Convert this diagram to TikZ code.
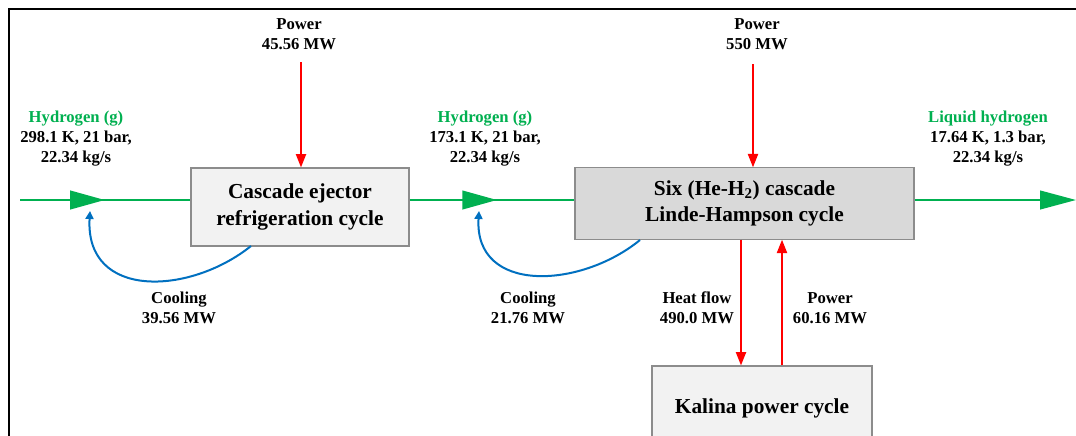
\documentclass[tikz,border=0pt]{standalone}
\usepackage{fontspec}
\setmainfont{Liberation Serif}
\usetikzlibrary{arrows.meta,decorations.markings}
\definecolor{hgreen}{HTML}{00B050}
\definecolor{pred}{HTML}{FF0000}
\definecolor{cblue}{HTML}{0070C0}
\definecolor{boxgray}{HTML}{8C8C8C}
\definecolor{lightfill}{HTML}{F2F2F2}
\definecolor{darkfill}{HTML}{D9D9D9}
\tikzset{
  procbox/.style={draw=boxgray, line width=0.8pt, align=center, inner sep=0pt,
    font=\fontsize{16}{20}\selectfont\bfseries},
  lbl/.style={align=center, inner sep=0pt, font=\fontsize{12.5}{15}\selectfont\bfseries},
  flow/.style={draw=hgreen, line width=1.6pt},
  powerarrow/.style={draw=pred, line width=1.5pt, -{Triangle[length=10pt,width=7.5pt]}},
  coolarrow/.style={draw=cblue, line width=1.5pt, -{Triangle[length=6pt,width=6pt]}},
  midtri/.style={postaction={decorate}, decoration={markings,
    mark=at position #1 with {\arrow[hgreen]{Triangle[length=26pt,width=14pt]}}}}
}
\begin{document}
\begin{tikzpicture}[x=0.75pt,y=-0.75pt]
\useasboundingbox (0,0) rectangle (1076,436);
\clip (0,0) rectangle (1076,436);
\fill[white] (0,0) rectangle (1076,436);
% frame
\draw[line width=2pt] (9,460) -- (9,9) -- (1080,9);

% boxes
\node[procbox, fill=lightfill, minimum width=163.5pt, minimum height=58.5pt] (cer) at (300,207)
  {Cascade ejector\\refrigeration cycle};
\node[procbox, fill=darkfill, minimum width=254.25pt, minimum height=53.5pt] (lh) at (744.5,203.5)
  {Six (He-H\textsubscript{2}) cascade\\Linde-Hampson cycle};
\node[procbox, fill=lightfill, minimum width=165pt, minimum height=63pt] (kal) at (762,408)
  {Kalina power cycle};

% hydrogen flow
\coordinate (hin) at (20,200);
\coordinate (hout) at (1076,200);
\draw[flow, midtri=0.497] (hin) -- (cer.west |- hin);
\draw[flow, midtri=0.53] (cer.east |- hin) -- (lh.west |- hin);
\draw[flow, -{Triangle[length=27pt,width=14pt]}] (lh.east |- hout) -- (hout);

% labels hydrogen
\node[lbl] (h1) at (76,139) {\textcolor{hgreen}{Hydrogen (g)}\\298.1 K, 21 bar,\\22.34 kg/s};
\node[lbl] (h2) at (485,139) {\textcolor{hgreen}{Hydrogen (g)}\\173.1 K, 21 bar,\\22.34 kg/s};
\node[lbl] (h3) at (988,139) {\textcolor{hgreen}{Liquid hydrogen}\\17.64 K, 1.3 bar,\\22.34 kg/s};

% power inputs
\node[lbl] (p1) at (299,34) {Power\\45.56 MW};
\node[lbl] (p2) at (757,34) {Power\\550 MW};
\coordinate (p1s) at (301,62);
\coordinate (p2s) at (753,64);
\draw[powerarrow] (p1s) -- (p1s |- cer.north);
\draw[powerarrow] (p2s) -- (p2s |- lh.north);

% cooling
\coordinate (c1s) at (251,246);
\coordinate (c1e) at (90,211);
\coordinate (c2s) at (640,240);
\coordinate (c2e) at (479,211);
\draw[coolarrow] (c1s) .. controls (190,295) and (85,300) .. (c1e);
\draw[coolarrow] (c2s) .. controls (580,289) and (474,294) .. (c2e);
\node[lbl] (cl1) at (179,308) {Cooling\\39.56 MW};
\node[lbl] (cl2) at (528,308) {Cooling\\21.76 MW};

% Kalina connections
\coordinate (hfx) at (741,0);
\coordinate (pwx) at (782,0);
\draw[powerarrow] (hfx |- lh.south) -- (hfx |- kal.north);
\draw[powerarrow] (pwx |- kal.north) -- (pwx |- lh.south);
\node[lbl] (hf) at (697,308) {Heat flow\\490.0 MW};
\node[lbl] (pw) at (830,308) {Power\\60.16 MW};
\end{tikzpicture}
\end{document}
